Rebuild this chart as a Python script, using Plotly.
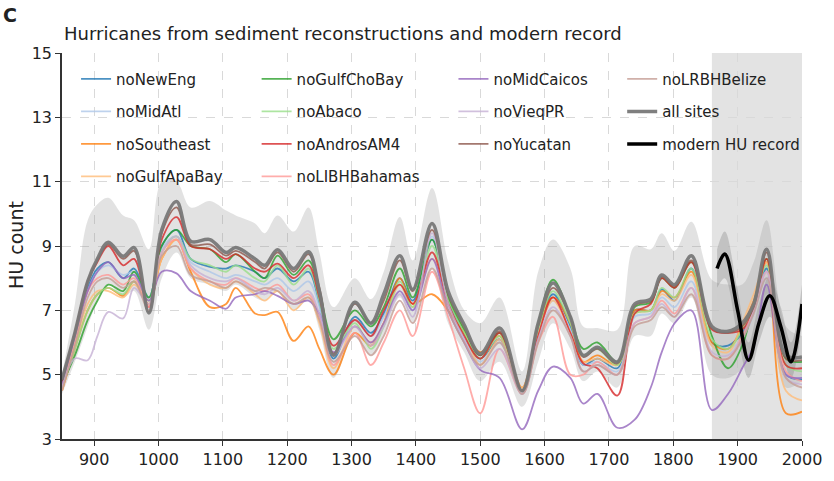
import plotly.graph_objects as go

# Year grid shared by the sediment-based series
years = [850, 870, 890, 905, 922, 945, 962, 985, 1005, 1028,
         1050, 1080, 1105, 1120, 1150, 1165, 1185, 1210, 1233, 1250,
         1272, 1305, 1330, 1350, 1375, 1395, 1425, 1450, 1475, 1500,
         1530, 1565, 1590, 1613, 1640, 1660, 1682, 1713, 1740, 1765,
         1782, 1802, 1828, 1860, 1885, 1907, 1925, 1945, 1975, 2000]

# Envelope of the reconstructions
band_upper = [5.0, 7.2, 9.8, 10.3, 10.5, 9.95, 9.8, 8.9, 11.0, 11.0,
              10.2, 10.4, 10.1, 9.95, 9.7, 9.4, 9.95, 9.45, 10.2, 8.8,
              7.1, 8.0, 7.35, 8.2, 9.9, 8.55, 10.8, 8.5, 7.0, 6.6,
              7.4, 5.1, 8.2, 9.2, 8.3, 6.5, 6.45, 6.4, 9.0, 8.9,
              9.4, 8.85, 9.75, 7.95, 7.8, 7.8, 8.5, 9.8, 6.5, 6.2]
band_lower = [4.4, 5.4, 6.5, 7.3, 7.8, 7.4, 7.6, 6.4, 8.0, 8.8,
              8.0, 7.8, 7.6, 7.8, 7.4, 7.3, 7.6, 7.0, 7.3, 6.4,
              4.9, 6.2, 5.6, 6.2, 7.4, 6.6, 8.3, 6.6, 5.7, 4.8,
              5.4, 4.0, 5.4, 6.6, 5.8, 4.8, 5.1, 4.6, 6.2, 6.2,
              6.9, 6.6, 7.4, 5.0, 4.9, 5.2, 5.9, 7.5, 4.6, 4.8]

# Leave-one-site-out reconstructions
noNewEng = [4.7, 6.2, 7.7, 8.3, 8.5, 8.0, 8.3, 7.4, 9.0, 9.5,
            8.6, 8.35, 8.3, 8.4, 8.2, 8.0, 8.3, 7.9, 8.2, 7.2,
            5.5, 6.8, 6.3, 6.9, 8.0, 7.3, 9.2, 7.3, 6.3, 5.5,
            6.1, 4.4, 6.4, 7.5, 6.5, 5.3, 5.5, 5.2, 7.0, 7.0,
            7.65, 7.3, 8.3, 6.0, 5.9, 6.3, 7.0, 8.3, 5.0, 4.85]
noMidAtl = [4.7, 6.1, 7.6, 8.2, 8.4, 8.1, 8.2, 7.4, 8.9, 9.3,
            8.5, 8.2, 8.0, 8.1, 7.9, 7.8, 8.0, 7.6, 7.9, 7.1,
            5.6, 6.7, 6.2, 6.8, 7.8, 7.0, 9.3, 7.2, 6.1, 5.4,
            6.0, 4.5, 6.3, 7.3, 6.4, 5.3, 5.4, 5.1, 6.8, 6.9,
            7.4, 7.1, 7.9, 5.9, 5.8, 6.1, 6.9, 8.0, 5.0, 4.9]
noSoutheast = [4.5, 5.8, 7.0, 7.5, 7.7, 7.45, 7.9, 7.2, 8.6, 9.2,
               8.2, 7.1, 7.2, 7.7, 6.9, 6.85, 6.95, 6.05, 6.5, 5.8,
               5.0, 6.3, 5.9, 6.6, 8.0, 7.2, 7.5, 7.0, 6.3, 5.7,
               6.2, 4.6, 6.5, 7.4, 6.6, 5.4, 5.6, 5.3, 7.0, 7.0,
               7.6, 7.4, 8.2, 6.0, 5.8, 6.5, 7.3, 8.5, 3.8, 3.85]
noGulfApaBay = [4.5, 5.9, 7.2, 7.6, 7.6, 7.4, 7.8, 7.3, 8.6, 9.2,
                8.3, 7.8, 7.7, 7.9, 7.5, 7.3, 7.6, 7.0, 7.4, 6.6,
                5.2, 6.5, 6.0, 6.6, 7.8, 7.1, 8.6, 7.4, 6.4, 5.3,
                6.1, 4.6, 6.3, 7.3, 6.3, 5.4, 5.5, 5.3, 6.9, 7.0,
                7.5, 7.3, 8.1, 5.9, 5.7, 6.6, 7.5, 8.5, 4.5, 4.2]
noGulfChoBay = [4.7, 5.6, 6.7, 7.3, 7.8, 7.6, 8.2, 7.4, 9.0, 9.5,
                9.0, 8.9, 8.5, 8.75, 8.2, 8.0, 8.7, 8.1, 8.55, 7.6,
                6.1, 7.0, 6.5, 7.1, 8.3, 7.4, 9.2, 7.4, 6.4, 5.6,
                6.3, 4.5, 6.6, 7.95, 6.8, 5.8, 6.0, 5.4, 7.1, 7.25,
                8.0, 7.7, 8.5, 6.2, 5.2, 5.9, 7.2, 8.6, 5.5, 5.4]
noAbaco = [4.6, 5.8, 7.0, 7.5, 7.7, 7.5, 7.9, 7.3, 8.8, 9.3,
           8.6, 8.4, 8.2, 8.4, 8.0, 7.9, 8.4, 7.8, 8.3, 7.3,
           5.8, 6.6, 5.8, 6.5, 7.9, 7.1, 9.0, 7.3, 6.3, 5.5,
           6.2, 4.5, 6.4, 7.6, 6.6, 5.6, 5.8, 5.3, 6.9, 7.0,
           7.7, 7.4, 8.3, 6.1, 5.8, 6.4, 7.2, 8.4, 5.3, 5.1]
noAndrosAM4 = [4.75, 6.3, 7.9, 8.5, 9.0, 8.4, 8.6, 7.1, 9.2, 9.9,
               9.0, 8.9, 8.6, 8.75, 8.3, 8.2, 8.45, 8.0, 8.4, 7.4,
               5.9, 6.7, 6.2, 7.0, 7.8, 7.2, 8.8, 7.2, 6.2, 5.5,
               6.3, 4.5, 6.2, 7.4, 6.3, 5.35, 5.2, 4.35, 6.9, 7.2,
               8.0, 7.7, 8.5, 6.4, 6.3, 6.4, 7.0, 8.6, 5.3, 5.2]
noLIBHBahamas = [4.6, 6.0, 7.6, 8.0, 8.1, 7.8, 8.0, 7.1, 8.8, 9.2,
                 8.3, 7.9, 7.8, 8.0, 7.7, 7.6, 7.8, 7.3, 7.5, 6.8,
                 5.3, 6.3, 5.3, 6.0, 7.0, 6.2, 8.2, 6.8, 5.2, 3.8,
                 5.8, 4.4, 6.0, 6.8, 5.0, 5.0, 5.4, 5.0, 6.6, 6.8,
                 7.3, 6.9, 7.7, 5.6, 5.5, 6.2, 7.0, 8.2, 5.1, 4.8]
noMidCaicos = [4.7, 6.2, 7.6, 8.2, 8.5, 8.0, 8.1, 7.3, 8.2, 8.15,
               7.6, 7.3, 7.05, 7.4, 7.5, 7.6, 7.45, 7.2, 7.3, 6.9,
               5.7, 6.5, 6.0, 6.6, 7.6, 7.0, 8.6, 7.0, 6.0, 5.15,
               4.9, 3.3, 4.5, 5.25, 4.9, 4.1, 4.4, 3.35, 3.6, 4.6,
               5.7, 6.6, 7.0, 3.9, 4.4, 5.2, 5.9, 7.8, 5.0, 4.9]
noVieqPR = [4.6, 5.5, 5.45, 6.2, 6.95, 6.75, 7.7, 7.2, 8.8, 9.3,
            8.4, 8.0, 7.9, 8.0, 7.6, 7.5, 7.7, 7.3, 7.6, 6.9,
            5.6, 6.5, 5.9, 6.5, 7.5, 6.8, 9.4, 7.2, 6.1, 5.2,
            5.8, 4.4, 6.1, 7.1, 6.2, 5.1, 5.3, 5.0, 6.6, 6.8,
            7.2, 6.8, 7.7, 5.7, 5.6, 6.1, 7.0, 8.2, 4.9, 4.7]
noYucatan = [4.8, 6.3, 7.9, 8.55, 9.05, 8.6, 8.85, 6.95, 9.4, 10.2,
             9.05, 9.05, 8.7, 8.85, 8.5, 8.3, 8.8, 8.2, 8.75, 7.7,
             5.65, 7.2, 6.6, 7.3, 8.55, 7.6, 9.5, 7.5, 6.5, 5.6,
             6.35, 4.5, 6.5, 7.7, 6.8, 5.55, 5.8, 5.35, 7.15, 7.3,
             8.05, 7.75, 8.55, 6.45, 6.3, 6.5, 7.1, 8.8, 5.5, 5.45]
noLRBHBelize = [4.5, 5.9, 7.4, 7.9, 8.0, 7.7, 7.9, 7.0, 8.7, 9.0,
                8.1, 7.9, 7.7, 7.9, 7.6, 7.7, 7.6, 7.2, 7.4, 6.7,
                5.4, 6.2, 5.6, 6.2, 7.3, 6.6, 8.3, 7.0, 6.0, 5.3,
                6.0, 4.4, 6.0, 7.0, 6.2, 5.1, 5.3, 5.0, 6.5, 6.7,
                7.1, 6.8, 7.5, 5.6, 5.5, 6.1, 6.9, 8.0, 4.9, 4.6]
all_sites = [4.85, 6.3, 7.9, 8.6, 9.12, 8.68, 8.95, 6.92, 9.5, 10.38,
             9.15, 9.2, 8.8, 8.95, 8.6, 8.4, 8.88, 8.3, 8.82, 7.6,
             5.6, 7.25, 6.6, 7.5, 8.7, 7.65, 9.7, 7.6, 6.55, 5.65,
             6.45, 4.5, 6.6, 7.85, 6.8, 5.6, 5.85, 5.4, 7.2, 7.35,
             8.1, 7.8, 8.7, 6.5, 6.35, 6.6, 7.2, 8.9, 5.6, 5.55]

# Observed (instrumental) hurricane record and its spread
modern_years = [1868, 1880, 1900, 1917, 1933, 1950, 1967, 1983, 2000]
modern_hu = [8.3, 8.75, 7.0, 5.45, 6.6, 7.45, 6.5, 5.4, 7.2]
modern_upper = [8.9, 9.45, 7.6, 6.0, 7.2, 8.1, 7.1, 6.0, 7.8]
modern_lower = [7.7, 8.0, 6.2, 4.9, 6.0, 6.8, 5.9, 4.9, 6.6]

modern_period = [1860, 2000]
x_ticks = [900, 1000, 1100, 1200, 1300, 1400, 1500, 1600, 1700, 1800, 1900, 2000]
y_ticks = [3, 5, 7, 9, 11, 13, 15]

FONT = "DejaVu Sans"
TXT = "#222222"

# (name, values, colour, legend column)
sites = [
    ("noNewEng", noNewEng, "rgba(31,119,180,0.8)", "legend"),
    ("noMidAtl", noMidAtl, "rgba(174,199,232,0.8)", "legend"),
    ("noSoutheast", noSoutheast, "rgba(255,127,14,0.8)", "legend"),
    ("noGulfApaBay", noGulfApaBay, "rgba(255,187,120,0.8)", "legend"),
    ("noGulfChoBay", noGulfChoBay, "rgba(44,160,44,0.8)", "legend2"),
    ("noAbaco", noAbaco, "rgba(152,223,138,0.8)", "legend2"),
    ("noAndrosAM4", noAndrosAM4, "rgba(214,39,40,0.8)", "legend2"),
    ("noLIBHBahamas", noLIBHBahamas, "rgba(255,152,150,0.8)", "legend2"),
    ("noMidCaicos", noMidCaicos, "rgba(148,103,189,0.8)", "legend3"),
    ("noVieqPR", noVieqPR, "rgba(197,176,213,0.8)", "legend3"),
    ("noYucatan", noYucatan, "rgba(140,86,75,0.8)", "legend3"),
    ("noLRBHBelize", noLRBHBelize, "rgba(196,156,148,0.8)", "legend4"),
]

fig = go.Figure()

# grey envelope of the sediment reconstructions
fig.add_trace(go.Scatter(x=years, y=band_upper, mode="lines", line=dict(width=0, shape="spline"),
                         showlegend=False, hoverinfo="skip"))
fig.add_trace(go.Scatter(x=years, y=band_lower, mode="lines", line=dict(width=0, shape="spline"),
                         fill="tonexty", fillcolor="rgba(150,150,150,0.28)",
                         showlegend=False, hoverinfo="skip"))

# spread of the modern record
fig.add_trace(go.Scatter(x=modern_years, y=modern_upper, mode="lines", line=dict(width=0, shape="spline"),
                         showlegend=False, hoverinfo="skip"))
fig.add_trace(go.Scatter(x=modern_years, y=modern_lower, mode="lines", line=dict(width=0, shape="spline"),
                         fill="tonexty", fillcolor="rgba(120,120,120,0.3)",
                         showlegend=False, hoverinfo="skip"))

for name, vals, col, leg in sites:
    fig.add_trace(go.Scatter(x=years, y=vals, mode="lines", name=name,
                             line=dict(color=col, width=1.8, shape="spline"),
                             legend=leg, legendgroup=name))

fig.add_trace(go.Scatter(x=years, y=all_sites, mode="lines", name="all sites",
                         line=dict(color="rgba(120,120,120,0.95)", width=3.5, shape="spline"),
                         legend="legend4", legendgroup="all sites"))
fig.add_trace(go.Scatter(x=modern_years, y=modern_hu, mode="lines", name="modern HU record",
                         line=dict(color="black", width=3.5, shape="spline"),
                         legend="legend4", legendgroup="modern HU record"))

leg_common = dict(yanchor="top", xanchor="left", y=0.975, bgcolor="rgba(0,0,0,0)",
                  font=dict(family=FONT, size=15, color=TXT), tracegroupgap=10,
                  traceorder="grouped")

fig.update_layout(
    width=834, height=481,
    margin=dict(l=61.5, r=21.3, t=53, b=38),
    paper_bgcolor="white", plot_bgcolor="white",
    font=dict(family=FONT, color=TXT),
    legend=dict(x=0.019, **leg_common),
    legend2=dict(x=0.263, **leg_common),
    legend3=dict(x=0.529, **leg_common),
    legend4=dict(x=0.757, **leg_common),
    shapes=[dict(type="rect", xref="x", yref="y domain", x0=modern_period[0], x1=modern_period[1],
                 y0=0, y1=1, fillcolor="rgba(128,128,128,0.22)", line=dict(width=0), layer="below")],
    annotations=[
        dict(text="<b>C</b>", xref="paper", yref="paper", x=-0.07, y=1.098, xanchor="center",
             yanchor="middle", showarrow=False, font=dict(family=FONT, size=19, color=TXT)),
        dict(text="Hurricanes from sediment reconstructions and modern record", xref="paper",
             yref="paper", x=0.0, y=1.051, xanchor="left", yanchor="middle", showarrow=False,
             font=dict(family=FONT, size=18, color=TXT)),
        dict(text="HU count", xref="paper", yref="paper", x=-0.062, y=0.503, textangle=-90,
             xanchor="center", yanchor="middle", showarrow=False,
             font=dict(family=FONT, size=19, color=TXT)),
    ],
)

fig.update_xaxes(range=[850, 2000], tickvals=x_ticks, showline=True, linecolor="#333", linewidth=1.5,
                 ticks="outside", ticklen=5, tickcolor="#333", showgrid=True, gridcolor="#d9d9d9",
                 griddash="dash", gridwidth=1, zeroline=False, tickfont=dict(family=FONT, size=16, color=TXT))
fig.update_yaxes(range=[3, 15], tickvals=y_ticks, showline=True, linecolor="#333", linewidth=1.5,
                 ticks="outside", ticklen=5, tickcolor="#333", showgrid=True, gridcolor="#d9d9d9",
                 griddash="dash", gridwidth=1, zeroline=False, tickfont=dict(family=FONT, size=16, color=TXT))

fig.write_html("out.html")
